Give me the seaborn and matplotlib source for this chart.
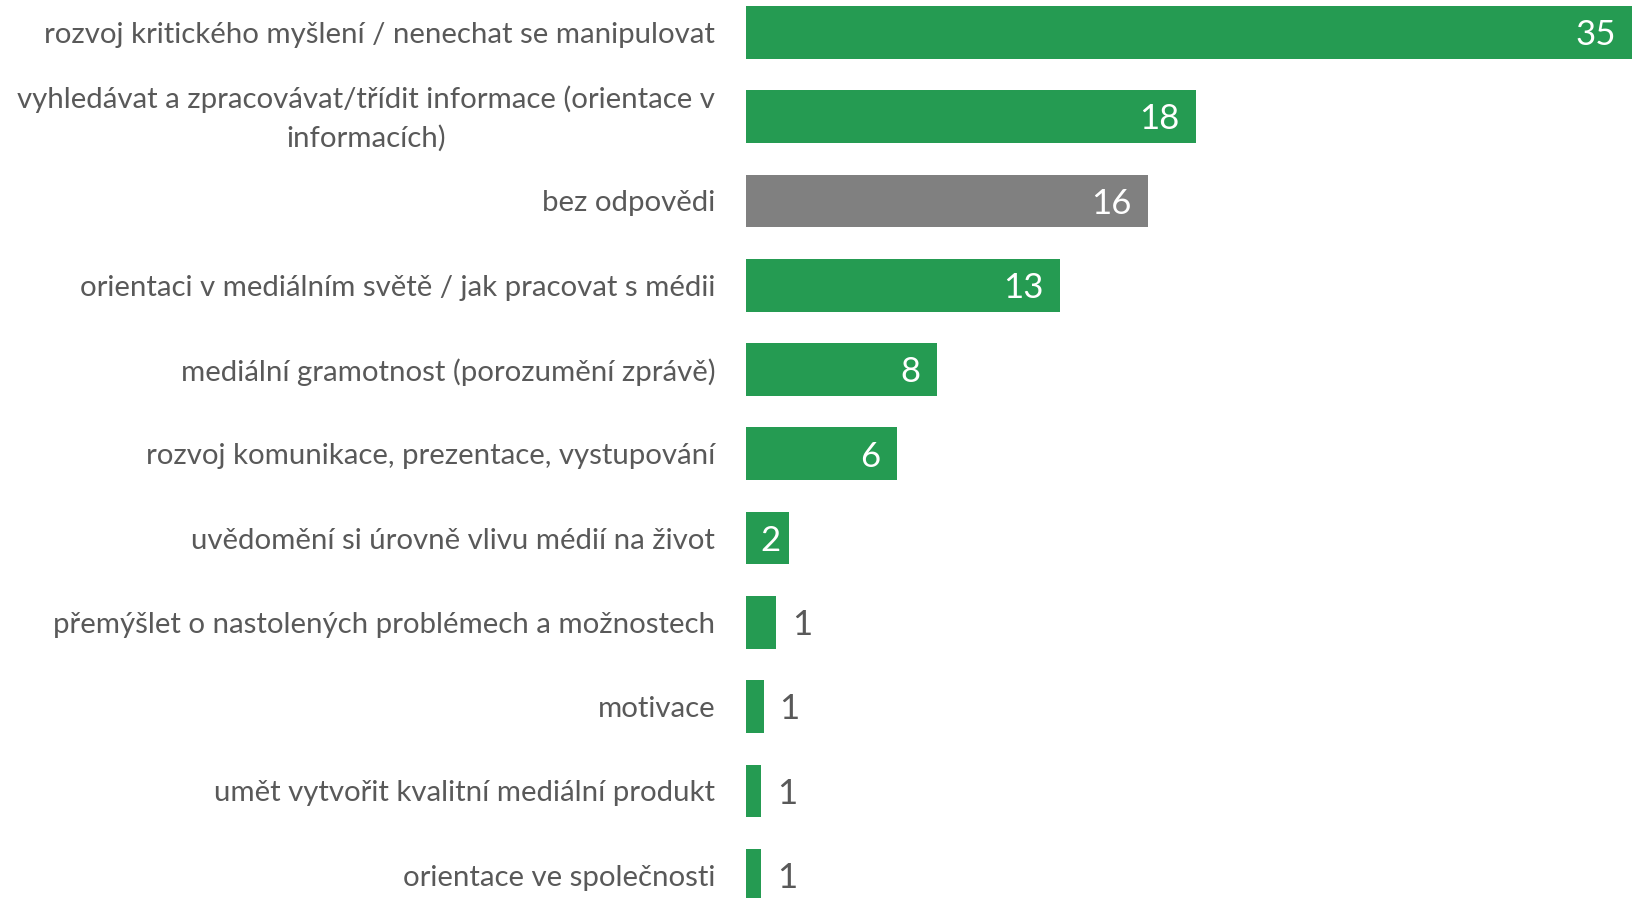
import matplotlib
matplotlib.use("Agg")
import matplotlib.pyplot as plt
import matplotlib.transforms as mtransforms
import seaborn as sns
import pandas as pd

# data (bar lengths; labels are the rounded values)
categories = [
    "rozvoj kritického myšlení / nenechat se manipulovat",
    "vyhledávat a zpracovávat/třídit informace (orientace v\ninformacích)",
    "bez odpovědi",
    "orientaci v mediálním světě / jak pracovat s médii",
    "mediální gramotnost (porozumění zprávě)",
    "rozvoj komunikace, prezentace, vystupování",
    "uvědomění si úrovně vlivu médií na život",
    "přemýšlet o nastolených problémech a možnostech",
    "motivace",
    "umět vytvořit kvalitní mediální produkt",
    "orientace ve společnosti",
]
values = [35.3, 17.9, 16.0, 12.5, 7.6, 6.0, 1.7, 1.2, 0.7, 0.6, 0.6]
labels = [35, 18, 16, 13, 8, 6, 2, 1, 1, 1, 1]
bar_colors = ["#259B52", "#259B52", "#808080"] + ["#259B52"] * 8

TEXT = "#595959"

sns.set_theme(style="white")
plt.rcParams["font.family"] = ["Lato", "DejaVu Sans"]

df = pd.DataFrame({"cat": categories, "val": values})

fig = plt.figure(figsize=(16.33, 8.98), dpi=100)
ax = fig.add_axes([746.3 / 1633, 0, 1 - 746.3 / 1633, 1])

sns.barplot(data=df, x="val", y="cat", hue="cat", palette=bar_colors,
            legend=False, width=0.625, saturation=1, orient="h", ax=ax,
            linewidth=0)

ax.set_xlim(0, 35.3)
ax.set_ylim(10.27, -0.383)
ax.set_xlabel("")
ax.set_ylabel("")
ax.set_xticks([])
sns.despine(ax=ax, left=True, bottom=True)
ax.tick_params(axis="y", length=0, pad=22.3, labelsize=21.2, labelcolor=TEXT)
for t in ax.get_yticklabels():
    t.set_multialignment("center")
    t.set_linespacing(1.55)
    if "\n" in t.get_text():
        # the wrapped label sits a little higher in the reference
        shift = mtransforms.ScaledTranslation(0, 5 / 72, fig.dpi_scale_trans)
        t.set_transform(t.get_transform() + shift)

# value labels: inside end (white) for bigger bars, outside (gray) for small ones
for i, (v, lab) in enumerate(zip(values, labels)):
    if v >= 3:
        ax.annotate(str(lab), (v, i), xytext=(-12, -2), textcoords="offset points",
                    ha="right", va="center", color="white", fontsize=25)
    elif v >= 1.5:
        ax.annotate(str(lab), (v / 2, i), xytext=(2, -2), textcoords="offset points",
                    ha="center", va="center", color="white", fontsize=25)
    else:
        ax.annotate(str(lab), (v, i), xytext=(11, -2), textcoords="offset points",
                    ha="left", va="center", color=TEXT, fontsize=25)

fig.savefig("out.png", dpi=100)
